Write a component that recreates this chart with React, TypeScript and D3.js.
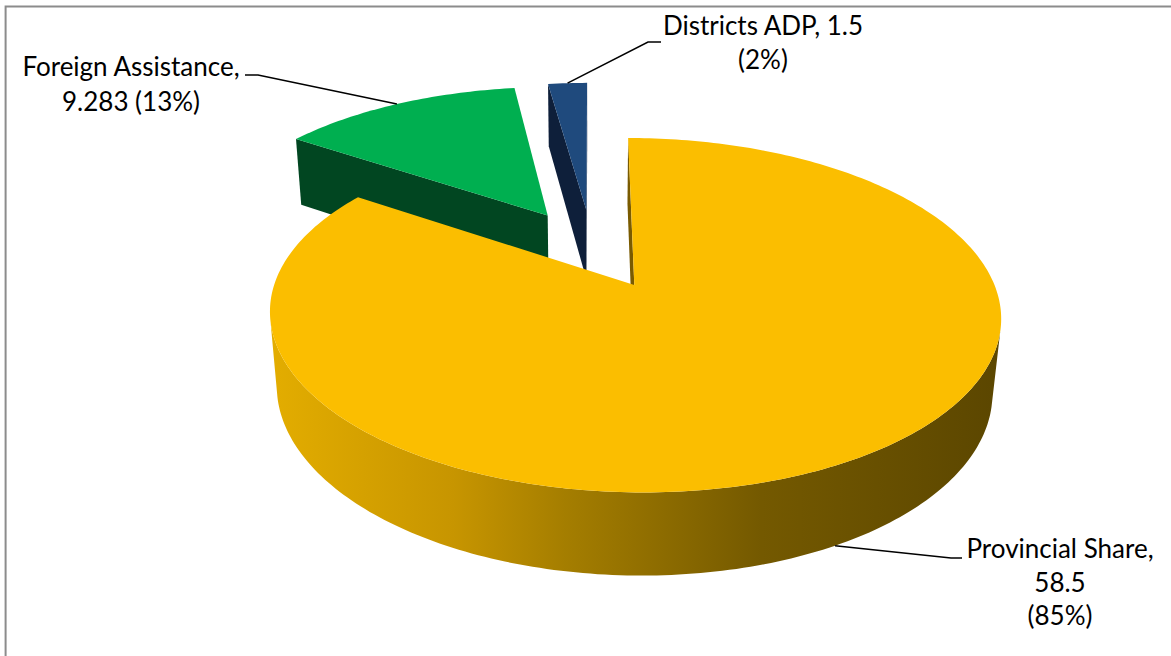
import React from "react";
import * as d3 from "d3";

// ---------- data ----------
const categories = ["Provincial Share", "Foreign Assistance", "Districts ADP"];
const values = [58.5, 9.283, 1.5];
const valueLabels = ["58.5", "9.283", "1.5"];
const percentLabels = ["85%", "13%", "2%"];

// ---------- styling ----------
const topColors = ["#FBBE00", "#00AF50", "#1F4A7D"];
const faceColors = ["#7A5B00", "#014621", "#0E1F3A"];
const sideColors = ["url(#provSide)", "#014621", "#0E1F3A"];

const W = 1171;
const H = 656;

// camera / projection
const ELEV = (27.4 * Math.PI) / 180;
const CAM_D = 5.38;
const FOCAL = 1867;
const X0 = 592;
const Y0 = 248.3;
const EXPLODE = 0.25;
const THICK = 0.237;
const CAM = [0, CAM_D * Math.sin(ELEV), CAM_D * Math.cos(ELEV)];

function project(x: number, y: number, z: number): [number, number] {
  const depth = CAM_D - (y * Math.sin(ELEV) + z * Math.cos(ELEV));
  return [
    X0 + (FOCAL * x) / depth,
    Y0 + (FOCAL * (z * Math.sin(ELEV) - y * Math.cos(ELEV))) / depth,
  ];
}

// label layout (positions in px)
const labelLayout = [
  { cx: 1060, y: 558, dy: 33.5, elbow: [951, 558], end: [962, 558], anchorBottom: true },
  { cx: 131, y: 76, dy: 35, elbow: [258, 75], end: [245, 75], anchorBottom: false },
  { cx: 763, y: 35, dy: 34, elbow: [648, 42], end: [661, 42], anchorBottom: false },
];

function labelLines(i: number): string[] {
  if (i === 0) return [`${categories[i]},`, valueLabels[i], `(${percentLabels[i]})`];
  if (i === 1) return [`${categories[i]},`, `${valueLabels[i]} (${percentLabels[i]})`];
  return [`${categories[i]}, ${valueLabels[i]}`, `(${percentLabels[i]})`];
}

const line = d3.line<[number, number]>();

export default function App() {
  const pie = d3
    .pie<number>()
    .sort(null)
    .startAngle(0)
    .endAngle(2 * Math.PI)(values);

  const slices = pie.map((p, i) => {
    const a0 = p.startAngle;
    const a1 = p.endAngle;
    const mid = (a0 + a1) / 2;
    const cx = EXPLODE * Math.sin(mid);
    const cz = -EXPLODE * Math.cos(mid);
    const rim = (phi: number, y: number) =>
      project(cx + Math.sin(phi), y, cz - Math.cos(phi));
    const apex = (y: number) => project(cx, y, cz);

    const n = Math.max(8, Math.ceil(((a1 - a0) / (2 * Math.PI)) * 360));
    const angles = d3.range(n + 1).map((k) => a0 + ((a1 - a0) * k) / n);

    const topPts: [number, number][] = [apex(0), ...angles.map((a) => rim(a, 0))];
    const topPath = line(topPts) + "Z";

    const faces: string[] = [];
    const faceVisible = (normalAngle: number) => {
      const nx = Math.sin(normalAngle);
      const nz = -Math.cos(normalAngle);
      return (CAM[0] - cx) * nx + (CAM[2] - cz) * nz > 0;
    };
    [
      [a0, a0 - Math.PI / 2],
      [a1, a1 + Math.PI / 2],
    ].forEach(([phi, na]) => {
      if (faceVisible(na)) {
        const pts: [number, number][] = [apex(0), rim(phi, 0), rim(phi, -THICK), apex(-THICK)];
        faces.push(line(pts) + "Z");
      }
    });

    const vis = angles.filter((a) => {
      const px = cx + Math.sin(a);
      const pz = cz - Math.cos(a);
      return (CAM[0] - px) * Math.sin(a) + (CAM[2] - pz) * -Math.cos(a) > 0;
    });
    let rimPath = "";
    if (vis.length > 1) {
      const pts: [number, number][] = [
        ...vis.map((a) => rim(a, 0)),
        ...vis.slice().reverse().map((a) => rim(a, -THICK)),
      ];
      rimPath = line(pts) + "Z";
    }

    const anchor = labelLayout[i].anchorBottom ? rim(mid, -THICK) : rim(mid, 0);

    return { i, cz, topPath, faces, rimPath, anchor };
  });

  const order = slices.slice().sort((a, b) => a.cz - b.cz);

  return (
    <svg
      width={W}
      height={H}
      style={{ position: "absolute", left: 0, top: 0, display: "block", background: "#fff" }}
    >
      <defs>
        <linearGradient id="provSide" gradientUnits="userSpaceOnUse" x1={271} y1={0} x2={1003} y2={0}>
          <stop offset="0" stopColor="#E3AD00" />
          <stop offset="0.25" stopColor="#C79500" />
          <stop offset="0.4" stopColor="#A57E00" />
          <stop offset="0.67" stopColor="#745900" />
          <stop offset="1" stopColor="#5B4600" />
        </linearGradient>
      </defs>
      <rect x={0} y={0} width={W} height={H} fill="#fff" />
      <path d={`M5.6,${H}V6.6H${W}`} fill="none" stroke="#8C8C8C" strokeWidth={2} />

      {order.map((s) => (
        <g key={s.i}>
          {s.faces.map((f, k) => (
            <path key={k} d={f} fill={faceColors[s.i]} />
          ))}
          {s.rimPath && <path d={s.rimPath} fill={sideColors[s.i]} />}
          <path d={s.topPath} fill={topColors[s.i]} />
        </g>
      ))}

      {slices.map((s) => {
        const L = labelLayout[s.i];
        const pts: [number, number][] = [s.anchor, L.elbow as [number, number], L.end as [number, number]];
        return (
          <path key={"l" + s.i} d={line(pts) || ""} fill="none" stroke="#000" strokeWidth={1.5} />
        );
      })}

      {slices.map((s) => {
        const L = labelLayout[s.i];
        return (
          <text
            key={"t" + s.i}
            x={L.cx}
            y={L.y}
            textAnchor="middle"
            fontFamily="Lato, 'Open Sans', sans-serif"
            fontSize={26}
            fill="#000"
          >
            {labelLines(s.i).map((t, k) => (
              <tspan key={k} x={L.cx} y={L.y + k * L.dy}>
                {t}
              </tspan>
            ))}
          </text>
        );
      })}
    </svg>
  );
}
